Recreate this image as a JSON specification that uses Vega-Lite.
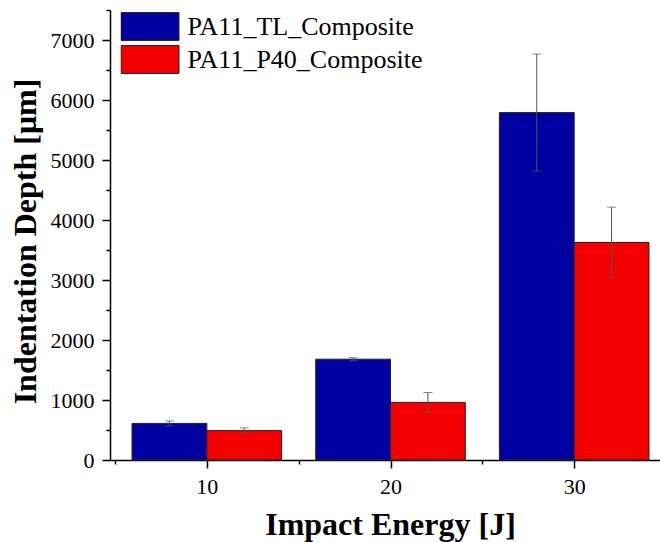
{
  "$schema": "https://vega.github.io/schema/vega-lite/v6.json",
  "width": 550,
  "height": 450,
  "autosize": {"type": "none"},
  "padding": {"left": 110, "top": 10, "right": 0, "bottom": 82},
  "background": "white",
  "config": {
    "view": {"stroke": null},
    "font": "Liberation Serif",
    "axis": {"labelFont": "Liberation Serif", "titleFont": "Liberation Serif"},
    "legend": {"labelFont": "Liberation Serif", "titleFont": "Liberation Serif"}
  },
  "data": {
    "values": [
      {"energy": 10, "series": "PA11_TL_Composite", "depth": 610, "err": 40},
      {"energy": 10, "series": "PA11_P40_Composite", "depth": 490, "err": 45},
      {"energy": 20, "series": "PA11_TL_Composite", "depth": 1680, "err": 25},
      {"energy": 20, "series": "PA11_P40_Composite", "depth": 960, "err": 165},
      {"energy": 30, "series": "PA11_TL_Composite", "depth": 5790, "err": 975},
      {"energy": 30, "series": "PA11_P40_Composite", "depth": 3625, "err": 590}
    ]
  },
  "encoding": {
    "x": {
      "field": "energy",
      "type": "quantitative",
      "scale": {"domain": [5, 34.4], "nice": false, "zero": false},
      "axis": {
        "title": "Impact Energy [J]",
        "values": [5, 10, 15, 20, 25, 30],
        "labelExpr": "datum.value % 10 === 0 ? datum.label : ''",
        "tickSize": {"condition": {"test": "datum.value % 10 === 0", "value": 8}, "value": 4},
        "grid": false,
        "domainColor": "black",
        "domainWidth": 1.5,
        "tickColor": "black",
        "tickWidth": 1.5,
        "labelFont": "Liberation Serif",
        "labelFontSize": 22,
        "labelColor": "black",
        "labelPadding": 8,
        "titleFont": "Liberation Serif",
        "titleFontSize": 32,
        "titleFontWeight": "bold",
        "titleColor": "black",
        "titlePadding": 12,
        "titleX": 280
      }
    },
    "y": {
      "field": "depth",
      "type": "quantitative",
      "scale": {"domain": [0, 7500], "nice": false},
      "axis": {
        "title": "Indentation Depth [μm]",
        "values": [0, 500, 1000, 1500, 2000, 2500, 3000, 3500, 4000, 4500, 5000, 5500, 6000, 6500, 7000, 7500],
        "labelExpr": "datum.value % 1000 === 0 ? datum.label : ''",
        "format": "d",
        "tickSize": {"condition": {"test": "datum.value % 1000 === 0", "value": 8}, "value": 4},
        "grid": false,
        "domainColor": "black",
        "domainWidth": 1.5,
        "tickColor": "black",
        "tickWidth": 1.5,
        "labelFont": "Liberation Serif",
        "labelFontSize": 22,
        "labelColor": "black",
        "labelPadding": 8,
        "titleFont": "Liberation Serif",
        "titleFontSize": 32,
        "titleFontWeight": "bold",
        "titleColor": "black",
        "titlePadding": 8,
        "titleY": 231
      }
    }
  },
  "layer": [
    {
      "transform": [{"filter": "datum.series === 'PA11_TL_Composite'"}],
      "mark": {"type": "bar", "width": 74.8, "xOffset": -37.4, "stroke": "#222", "strokeWidth": 1},
      "encoding": {
        "color": {
          "field": "series",
          "type": "nominal",
          "scale": {"domain": ["PA11_TL_Composite", "PA11_P40_Composite"], "range": ["#0000A0", "#F50000"]},
          "legend": {
            "orient": "none",
            "legendX": 10.5,
            "legendY": 1,
            "title": null,
            "padding": 0,
            "symbolType": "M-1,-0.48H1V0.48H-1Z",
            "symbolSize": 3364,
            "symbolStrokeColor": "#222",
            "symbolStrokeWidth": 1,
            "symbolOpacity": 1,
            "labelFontSize": 26,
            "labelFont": "Liberation Serif",
            "labelColor": "black",
            "labelOffset": 8,
            "labelLimit": 400,
            "clipHeight": 31,
            "rowPadding": 2
          }
        }
      }
    },
    {
      "transform": [{"filter": "datum.series === 'PA11_P40_Composite'"}],
      "mark": {"type": "bar", "width": 74.8, "xOffset": 37.4, "stroke": "#222", "strokeWidth": 1},
      "encoding": {
        "color": {"field": "series", "type": "nominal"}
      }
    },
    {
      "transform": [{"filter": "datum.series === 'PA11_TL_Composite'"}],
      "mark": {
        "type": "errorbar",
        "ticks": {"size": 9, "color": "#555", "xOffset": -37.4},
        "rule": {"color": "#555", "strokeWidth": 1, "xOffset": -37.4}
      },
      "encoding": {
        "yError": {"field": "err"}
      }
    },
    {
      "transform": [{"filter": "datum.series === 'PA11_P40_Composite'"}],
      "mark": {
        "type": "errorbar",
        "ticks": {"size": 9, "color": "#555", "xOffset": 37.4},
        "rule": {"color": "#555", "strokeWidth": 1, "xOffset": 37.4}
      },
      "encoding": {
        "yError": {"field": "err"}
      }
    }
  ]
}
